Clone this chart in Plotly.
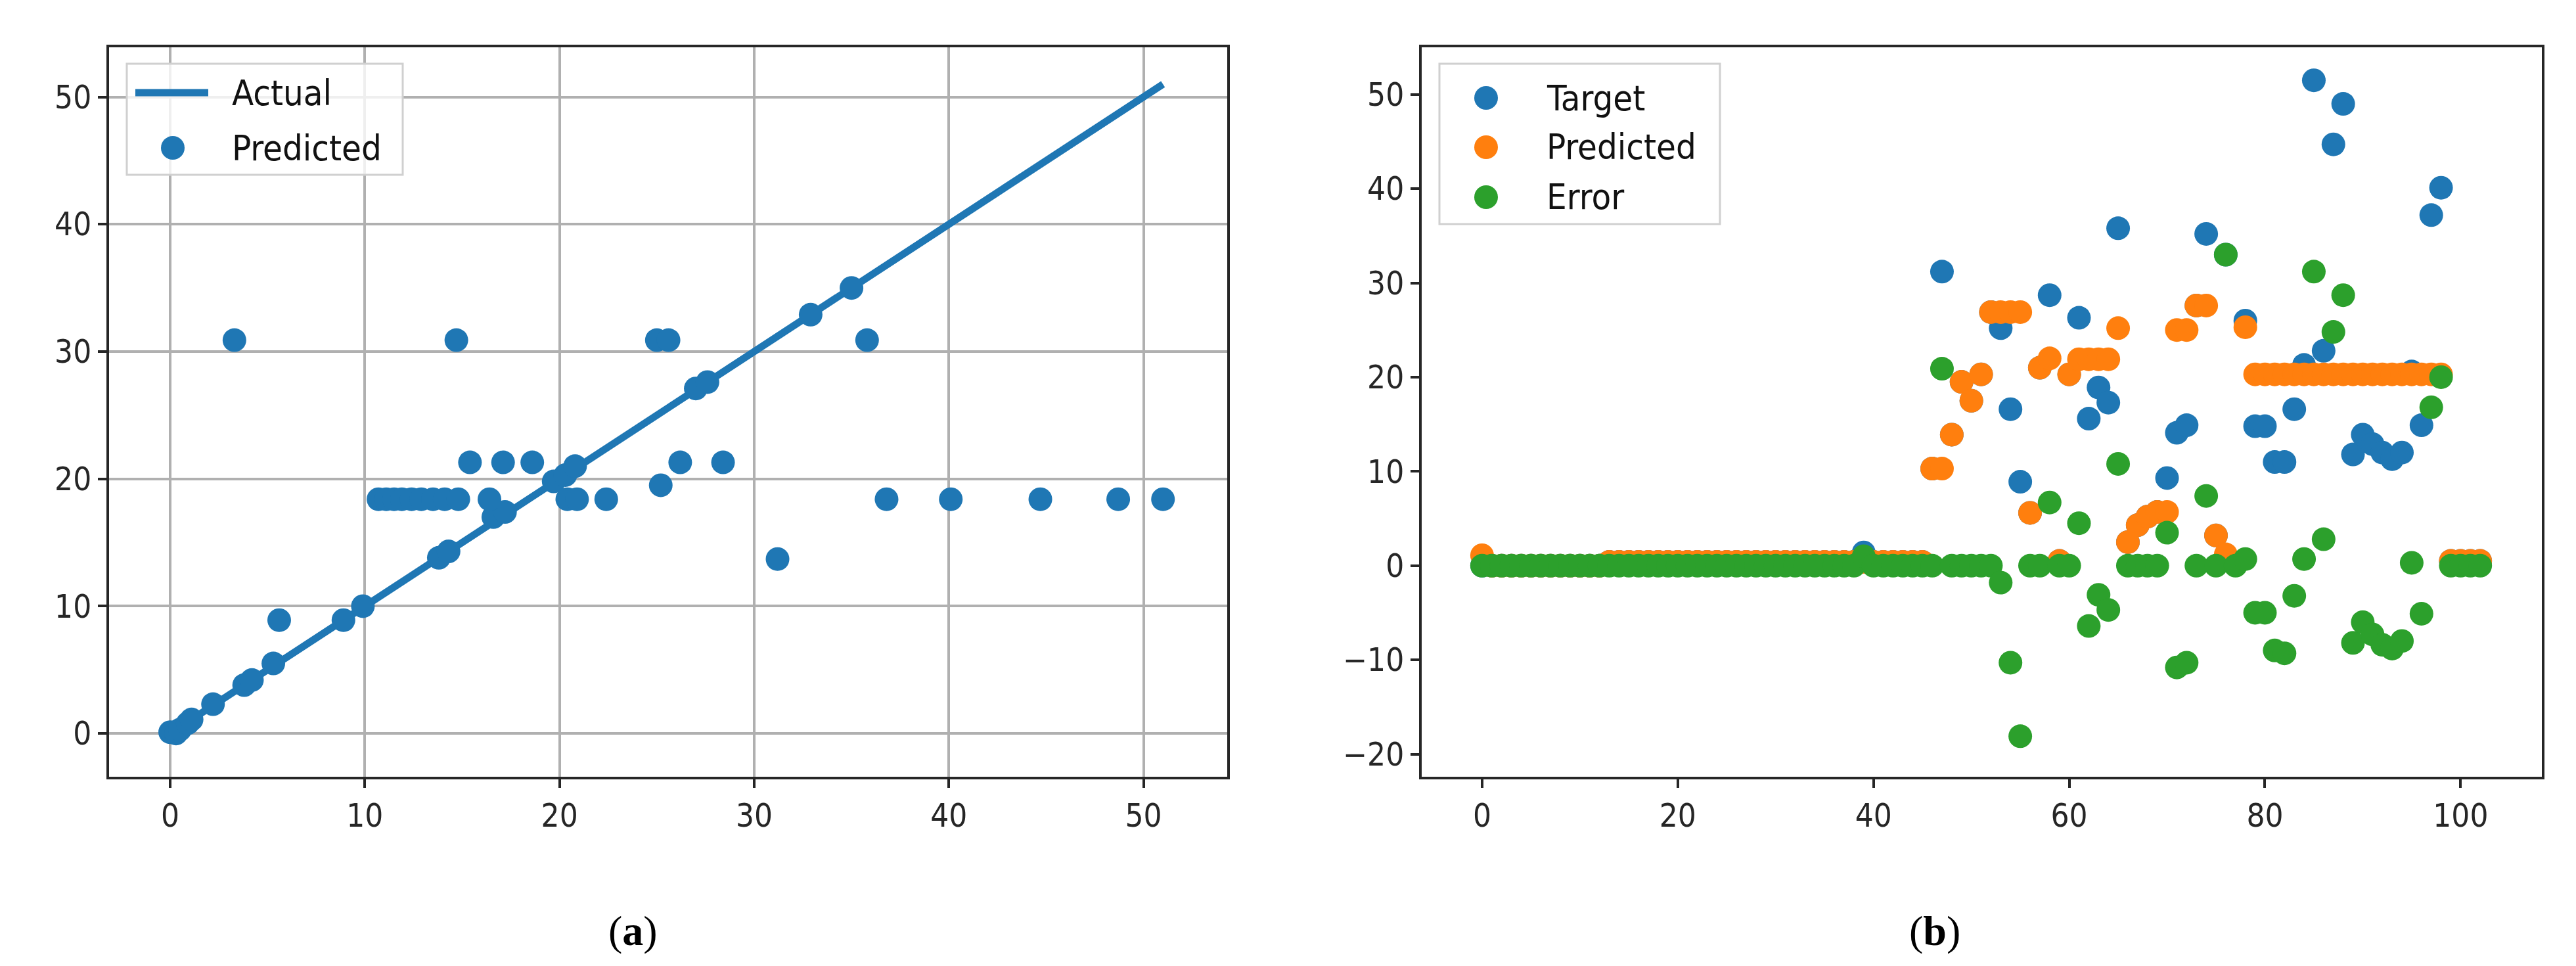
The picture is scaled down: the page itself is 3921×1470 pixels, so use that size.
import plotly.graph_objects as go

# ---- panel (a): actual vs predicted ----
actual_a = [0.0, 0.3, 0.5, 0.9, 1.1, 2.2, 3.8, 4.2, 5.3, 8.9, 9.9, 13.8, 14.3,
            16.6, 17.2, 19.7, 20.3, 20.8, 27.0, 27.6, 32.9, 35.0,
            3.3, 14.7, 25.0, 25.6, 35.8,
            5.6,
            10.7, 11.1, 11.5, 11.9, 12.4, 12.9, 13.5, 14.1, 14.8, 16.4, 20.4, 20.9,
            22.4, 36.8, 40.1, 44.7, 48.7, 51.0,
            15.4, 17.1, 18.6, 26.2, 28.4,
            25.2, 31.2]
predicted_a = [0.1, 0.0, 0.3, 0.8, 1.1, 2.3, 3.8, 4.2, 5.5, 8.9, 10.0, 13.8, 14.3,
               17.0, 17.4, 19.8, 20.3, 21.0, 27.1, 27.6, 32.9, 35.0,
               30.9, 30.9, 30.9, 30.9, 30.9,
               8.9,
               18.4, 18.4, 18.4, 18.4, 18.4, 18.4, 18.4, 18.4, 18.4, 18.4, 18.4, 18.4,
               18.4, 18.4, 18.4, 18.4, 18.4, 18.4,
               21.3, 21.3, 21.3, 21.3, 21.3,
               19.5, 13.7]

# ---- panel (b): per-sample target / predicted / error ----
index_b = list(range(103))
target_b = ([0.0] * 13 + [0.4] * 26 + [1.4] + [0.4] * 6 +
            [10.3, 31.2, 13.9, 19.5, 17.5, 20.3, 26.9, 25.2, 16.6, 8.9,
             5.6, 21.0, 28.7, 0.5, 20.3, 26.3, 15.6, 18.9, 17.3, 35.8,
             2.5, 4.3, 5.2, 5.7, 9.3, 14.1, 14.9, 27.6, 35.2, 3.2,
             33.0, 0.3, 26.0, 14.8, 14.8, 11.0, 11.0, 16.6, 21.3, 51.5,
             22.8, 44.7, 49.0, 11.8, 13.9, 12.9, 12.0, 11.3, 12.0, 20.6,
             14.9, 37.2, 40.1, 0.5, 0.5, 0.5, 0.5])
predicted_b = ([1.1] + [0.0] * 12 + [0.4] * 33 +
               [10.3, 10.3, 13.9, 19.5, 17.5, 20.3, 26.9, 26.9, 26.9, 26.9,
                5.6, 21.0, 22.0, 0.5, 20.3, 21.9, 21.9, 21.9, 21.9, 25.2,
                2.5, 4.3, 5.2, 5.7, 5.7, 25.0, 25.0, 27.6, 27.6, 3.2,
                1.2, 0.3, 25.3, 20.3, 20.3, 20.3, 20.3, 20.3, 20.3, 20.3,
                20.3, 20.3, 20.3, 20.3, 20.3, 20.3, 20.3, 20.3, 20.3, 20.3,
                20.3, 20.3, 20.3, 0.5, 0.5, 0.5, 0.5])
error_b = ([0.0] * 39 + [1.0] + [0.0] * 6 +
           [0.0, 20.9, 0.0, 0.0, 0.0, 0.0, 0.0, -1.8, -10.3, -18.1,
            0.0, 0.0, 6.7, 0.0, 0.0, 4.5, -6.4, -3.1, -4.7, 10.8,
            0.0, 0.0, 0.0, 0.0, 3.5, -10.8, -10.3, 0.0, 7.4, 0.0,
            33.0, 0.0, 0.7, -5.0, -5.0, -9.0, -9.3, -3.2, 0.7, 31.2,
            2.8, 24.8, 28.7, -8.2, -6.0, -7.3, -8.4, -8.8, -8.0, 0.3,
            -5.1, 16.8, 20.0, 0.0, 0.0, 0.0, 0.0])

BLUE, ORANGE, GREEN = "#1f77b4", "#ff7f0e", "#2ca02c"
W, H = 3921, 1470
TICK_FONT = dict(family="DejaVu Sans Condensed, DejaVu Sans", size=49, color="#262626")
LEG_FONT = dict(family="DejaVu Sans Condensed, DejaVu Sans", size=54, color="#111111")
MS = 36

fig = go.Figure()

line_order = sorted(actual_a)
fig.add_trace(go.Scatter(x=line_order, y=line_order, mode="lines", name="Actual",
                         line=dict(color=BLUE, width=11), xaxis="x", yaxis="y"))
fig.add_trace(go.Scatter(x=actual_a, y=predicted_a, mode="markers", name="Predicted",
                         marker=dict(color=BLUE, size=MS, line=dict(width=0)),
                         xaxis="x", yaxis="y"))

for vals, col, nm in [(target_b, BLUE, "Target"), (predicted_b, ORANGE, "Predicted"),
                      (error_b, GREEN, "Error")]:
    fig.add_trace(go.Scatter(x=index_b, y=vals, mode="markers", name=nm,
                             marker=dict(color=col, size=MS, line=dict(width=0)),
                             xaxis="x2", yaxis="y2"))


def px_x(p):
    return p / W


def px_y(p):
    return 1 - p / H


axis_common = dict(showline=True, linecolor="#262626", linewidth=4, mirror=True,
                   ticks="outside", ticklen=13, tickwidth=3.5, tickcolor="#262626",
                   tickfont=TICK_FONT, zeroline=False)

fig.update_layout(
    width=W, height=H, autosize=False, showlegend=False,
    margin=dict(l=0, r=0, t=0, b=0),
    paper_bgcolor="white", plot_bgcolor="white",
    xaxis=dict(domain=[px_x(158), px_x(1860)], range=[-3.14, 54.3],
               tickvals=[0, 10, 20, 30, 40, 50], showgrid=True,
               gridcolor="#b0b0b0", gridwidth=3.5, anchor="y", **axis_common),
    yaxis=dict(domain=[px_y(1174), px_y(64)], range=[-3.4, 53.9],
               tickvals=[0, 10, 20, 30, 40, 50], showgrid=True,
               gridcolor="#b0b0b0", gridwidth=3.5, anchor="x", **axis_common),
    xaxis2=dict(domain=[px_x(2156), px_x(3861)], range=[-6.17, 108.3],
                tickvals=[0, 20, 40, 60, 80, 100], showgrid=False,
                anchor="y2", **axis_common),
    yaxis2=dict(domain=[px_y(1174), px_y(64)], range=[-22.4, 55.0],
                tickvals=[-20, -10, 0, 10, 20, 30, 40, 50], showgrid=False,
                anchor="x2", **axis_common),
)

# legends drawn by hand so the sample markers keep their full size
shapes = []
annotations = []


def legend_box(x0, y0, x1, y1):
    shapes.append(dict(type="rect", xref="paper", yref="paper",
                       x0=px_x(x0), x1=px_x(x1), y0=px_y(y1), y1=px_y(y0),
                       line=dict(color="#d0d0d0", width=3),
                       fillcolor="rgba(255,255,255,0.8)", layer="above"))


def legend_dot(cx, cy, col):
    r = MS / 2
    shapes.append(dict(type="circle", xref="paper", yref="paper",
                       x0=px_x(cx - r), x1=px_x(cx + r), y0=px_y(cy + r), y1=px_y(cy - r),
                       line=dict(width=0), fillcolor=col, layer="above"))


def legend_text(x, y, txt):
    annotations.append(dict(text=txt, xref="paper", yref="paper", x=px_x(x), y=px_y(y),
                            xanchor="left", yanchor="middle", showarrow=False,
                            font=LEG_FONT))


legend_box(185, 89, 605, 258)
shapes.append(dict(type="line", xref="paper", yref="paper",
                   x0=px_x(198), x1=px_x(309), y0=px_y(133), y1=px_y(133),
                   line=dict(color=BLUE, width=11), layer="above"))
legend_dot(255, 217, BLUE)
legend_text(343, 133, "Actual")
legend_text(343, 217, "Predicted")

legend_box(2183, 89, 2610, 333)
for cy, col, txt in [(141, BLUE, "Target"), (216, ORANGE, "Predicted"), (292, GREEN, "Error")]:
    legend_dot(2254, cy, col)
    legend_text(2344, cy, txt)

cap_font = dict(family="Liberation Serif, Times New Roman, serif", size=64, color="black")
annotations.append(dict(text="(<b>a</b>)", xref="paper", yref="paper",
                        x=px_x(955), y=px_y(1408), xanchor="center", yanchor="middle",
                        showarrow=False, font=cap_font))
annotations.append(dict(text="(<b>b</b>)", xref="paper", yref="paper",
                        x=px_x(2937), y=px_y(1408), xanchor="center", yanchor="middle",
                        showarrow=False, font=cap_font))

fig.update_layout(shapes=shapes, annotations=annotations)
fig.write_html("out.html")
